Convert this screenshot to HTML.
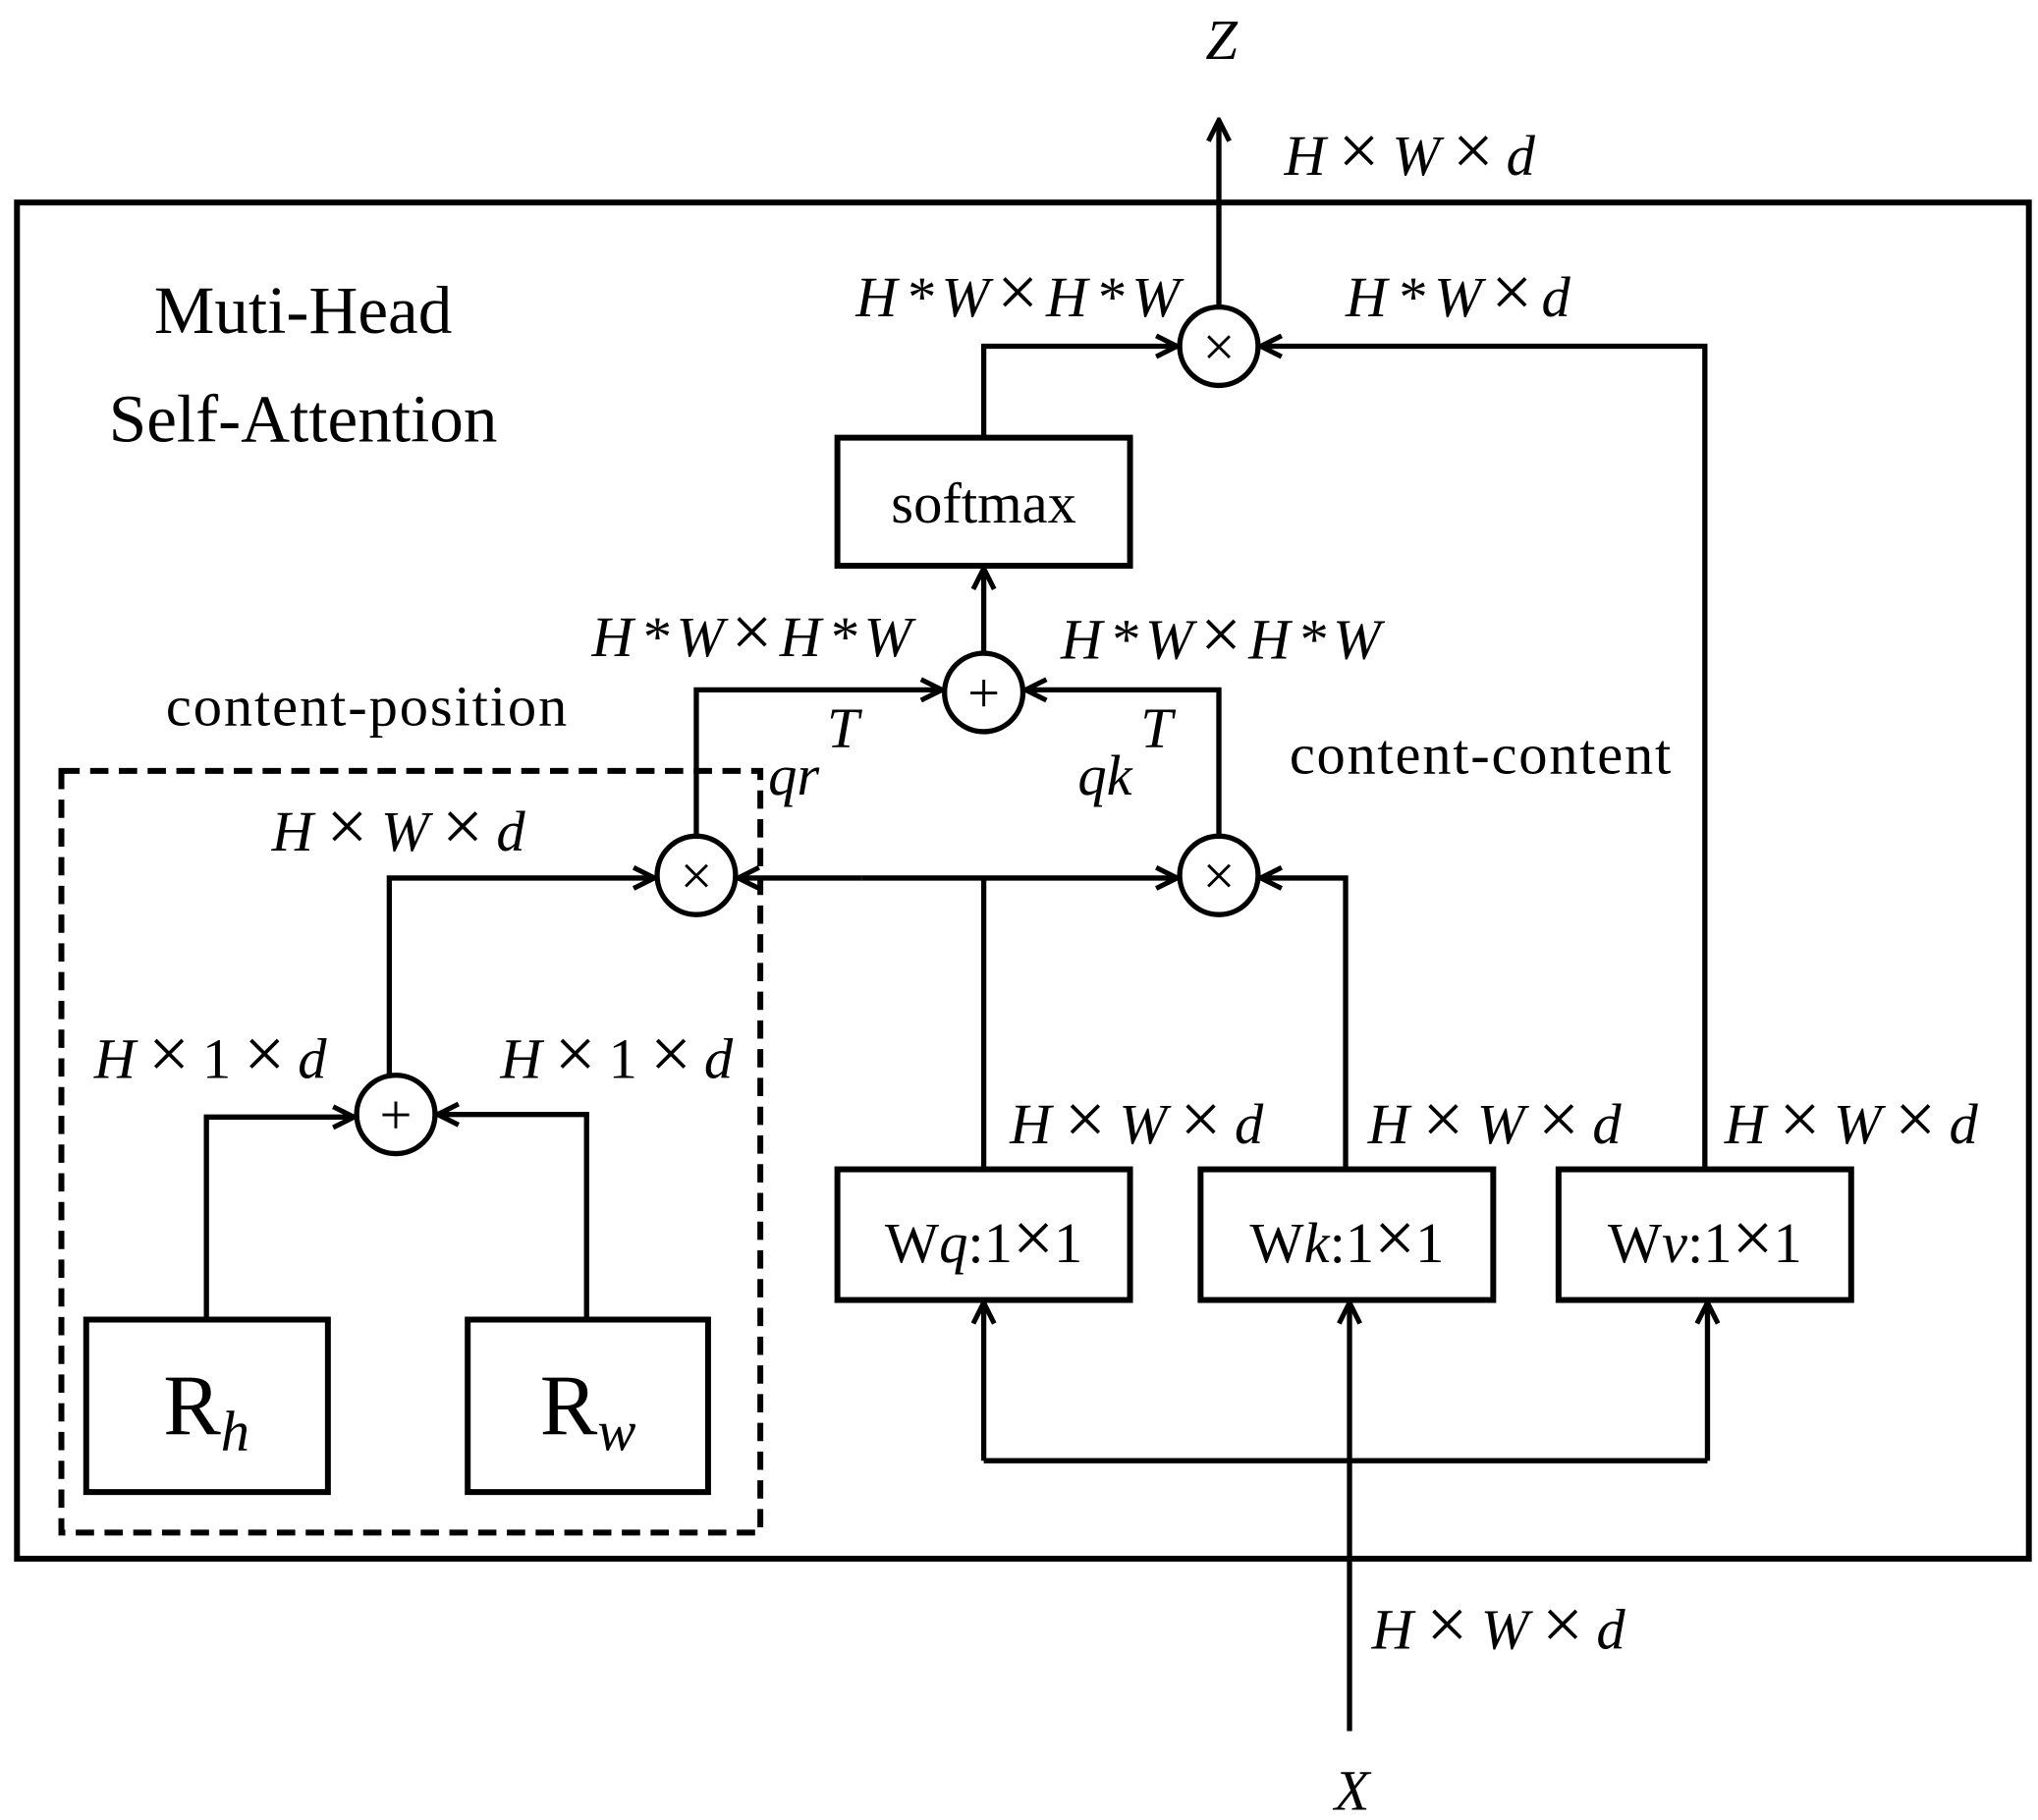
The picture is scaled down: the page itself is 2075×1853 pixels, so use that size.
<!DOCTYPE html>
<html><head><style>html,body{margin:0;padding:0;background:#fff}svg{display:block}</style></head><body>
<svg width="2075" height="1853" viewBox="0 0 1560 1393" preserveAspectRatio="none" xmlns="http://www.w3.org/2000/svg" font-family="Liberation Serif, serif" fill="none" stroke="#000">
<defs><marker id="a" viewBox="0 0 20 20" refX="18" refY="10" markerWidth="20" markerHeight="20" markerUnits="userSpaceOnUse" orient="auto"><path d="M2 2 L18 10 L2 18" stroke="#000" stroke-width="3.8" fill="none"/></marker></defs>
<g stroke-width="4.5">
<rect x="13" y="155" width="1540" height="1038"/>
<rect x="47" y="590" width="535" height="583" stroke-dasharray="14 8"/>
<rect x="641" y="335" width="224" height="98"/>
<rect x="641" y="895" width="224" height="100"/>
<rect x="919" y="895" width="224" height="100"/>
<rect x="1193" y="895" width="224" height="100"/>
<rect x="66" y="1010" width="185" height="132"/>
<rect x="358" y="1010" width="184" height="132"/>
</g>
<g stroke-width="4">
<circle cx="933" cy="265" r="30"/><circle cx="753" cy="530" r="30"/>
<circle cx="533" cy="670" r="30"/><circle cx="933" cy="670" r="30"/>
<circle cx="303" cy="853" r="30"/>
<path d="M933 235 V92" marker-end="url(#a)"/>
<path d="M753 335 V265 H901" marker-end="url(#a)"/>
<path d="M1305 895 V265 H965" marker-end="url(#a)"/>
<path d="M753 500 V435" marker-end="url(#a)"/>
<path d="M533 640 V528 H721" marker-end="url(#a)"/>
<path d="M933 640 V528 H785" marker-end="url(#a)"/>
<path d="M753 895 V672"/>
<path d="M660 672 H565" marker-end="url(#a)"/>
<path d="M660 672 H901" marker-end="url(#a)"/>
<path d="M1030 895 V672 H965" marker-end="url(#a)"/>
<path d="M298 823 V672 H501" marker-end="url(#a)"/>
<path d="M158 1010 V855 H271" marker-end="url(#a)"/>
<path d="M449 1010 V853 H335" marker-end="url(#a)"/>
<path d="M1033 1325 V997" marker-end="url(#a)"/>
<path d="M753 1118 H1307"/>
<path d="M753 1118 V997" marker-end="url(#a)"/>
<path d="M1307 1118 V997" marker-end="url(#a)"/>
</g>
<g fill="#000" stroke="none" font-size="44" text-anchor="middle">
<text x="933" y="280">×</text><text x="533" y="685">×</text><text x="933" y="685">×</text>
<text x="753" y="545">+</text><text x="303" y="868">+</text>
</g>
<g fill="#000" stroke="none" font-size="44">
<text x="232" y="255" text-anchor="middle" font-size="52">Muti-Head</text>
<text x="232" y="338" text-anchor="middle" font-size="52">Self-Attention</text>
<text x="753" y="400" text-anchor="middle">softmax</text>
<text x="127" y="555" textLength="307">content-position</text>
<text x="987" y="592" textLength="292">content-content</text>
<text x="753" y="966" text-anchor="middle">W<tspan font-style="italic">q</tspan>:1<tspan font-size="56">×</tspan>1</text>
<text x="1031" y="966" text-anchor="middle">W<tspan font-style="italic">k</tspan>:1<tspan font-size="56">×</tspan>1</text>
<text x="1305" y="966" text-anchor="middle">W<tspan font-style="italic">v</tspan>:1<tspan font-size="56">×</tspan>1</text>
<text x="158" y="1098" text-anchor="middle" font-size="66">R<tspan font-style="italic" font-size="44" dy="12">h</tspan></text>
<text x="450" y="1098" text-anchor="middle" font-size="66">R<tspan font-style="italic" font-size="44" dy="12">w</tspan></text>
</g>
<g fill="#000" stroke="none" font-size="44" font-style="italic">
<text x="935" y="45" text-anchor="middle">Z</text>
<text x="1035" y="1385" text-anchor="middle">X</text>
<text x="983" y="134" textLength="192">H<tspan font-style="normal" font-size="56">×</tspan>W<tspan font-style="normal" font-size="56">×</tspan>d</text>
<text x="655" y="242" textLength="248">H*W<tspan font-style="normal" font-size="56">×</tspan>H*W</text>
<text x="1030" y="242" textLength="172">H*W<tspan font-style="normal" font-size="56">×</tspan>d</text>
<text x="453" y="502" textLength="245">H*W<tspan font-style="normal" font-size="56">×</tspan>H*W</text>
<text x="812" y="504" textLength="245">H*W<tspan font-style="normal" font-size="56">×</tspan>H*W</text>
<text x="588" y="608">qr</text><text x="633" y="572">T</text>
<text x="825" y="608">qk</text><text x="873" y="572">T</text>
<text x="208" y="651" textLength="194">H<tspan font-style="normal" font-size="56">×</tspan>W<tspan font-style="normal" font-size="56">×</tspan>d</text>
<text x="72" y="825" textLength="178">H<tspan font-style="normal" font-size="56">×</tspan><tspan font-style="normal">1</tspan><tspan font-style="normal" font-size="56">×</tspan>d</text>
<text x="383" y="825" textLength="178">H<tspan font-style="normal" font-size="56">×</tspan><tspan font-style="normal">1</tspan><tspan font-style="normal" font-size="56">×</tspan>d</text>
<text x="773" y="875" textLength="194">H<tspan font-style="normal" font-size="56">×</tspan>W<tspan font-style="normal" font-size="56">×</tspan>d</text>
<text x="1047" y="875" textLength="194">H<tspan font-style="normal" font-size="56">×</tspan>W<tspan font-style="normal" font-size="56">×</tspan>d</text>
<text x="1320" y="875" textLength="194">H<tspan font-style="normal" font-size="56">×</tspan>W<tspan font-style="normal" font-size="56">×</tspan>d</text>
<text x="1050" y="1262" textLength="194">H<tspan font-style="normal" font-size="56">×</tspan>W<tspan font-style="normal" font-size="56">×</tspan>d</text>
</g>
</svg>
</body></html>
